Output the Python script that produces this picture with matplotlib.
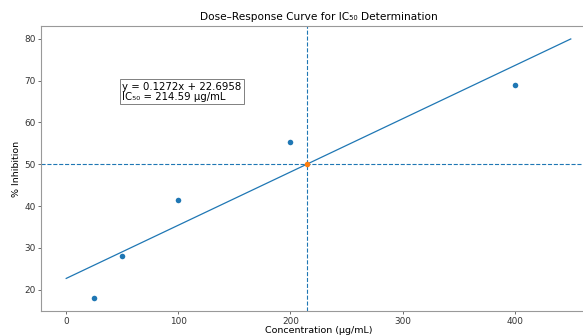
import numpy as np
import matplotlib
matplotlib.use("Agg")
import matplotlib.pyplot as plt

conc = [25, 50, 100, 200, 400]
inhibition = [18.0, 28.0, 41.5, 55.3, 69.0]
slope = 0.1272
intercept = 22.6958
ic50 = 214.59
line_x = [0, 450]

fig = plt.figure(figsize=(5.83, 3.35), dpi=100)
ax = fig.add_axes([0.0703, 0.0716, 0.952, 0.8508])

ax.scatter(conc, inhibition, s=16, color="C0", zorder=3, linewidths=0)
lx = np.array(line_x)
ax.plot(lx, slope * lx + intercept, color="C0", lw=0.9)
ax.axhline(50, color="C0", ls="--", lw=0.8)
ax.axvline(ic50, color="C0", ls="--", lw=0.8)
ax.scatter([ic50], [50], s=16, color="C1", zorder=4, linewidths=0)

ax.text(50, 65.4, "y = 0.1272x + 22.6958\nIC\u2085\u2080 = 214.59 \u03bcg/mL",
        fontsize=7.3, linespacing=1.0,
        bbox=dict(facecolor="white", edgecolor="gray", pad=1.8, lw=0.7))

ax.set_title("Dose\u2013Response Curve for IC\u2085\u2080 Determination", fontsize=7.6, pad=4)
ax.set_xlabel("Concentration (\u03bcg/mL)", fontsize=6.8, labelpad=0.5)
ax.set_ylabel("% Inhibition", fontsize=6.8, labelpad=2)
ax.tick_params(labelsize=6.4, length=2, width=0.5, pad=2, colors="#333333")
for s in ax.spines.values():
    s.set_color("#999999")
    s.set_linewidth(0.8)

fig.savefig("out.png", dpi=100)
